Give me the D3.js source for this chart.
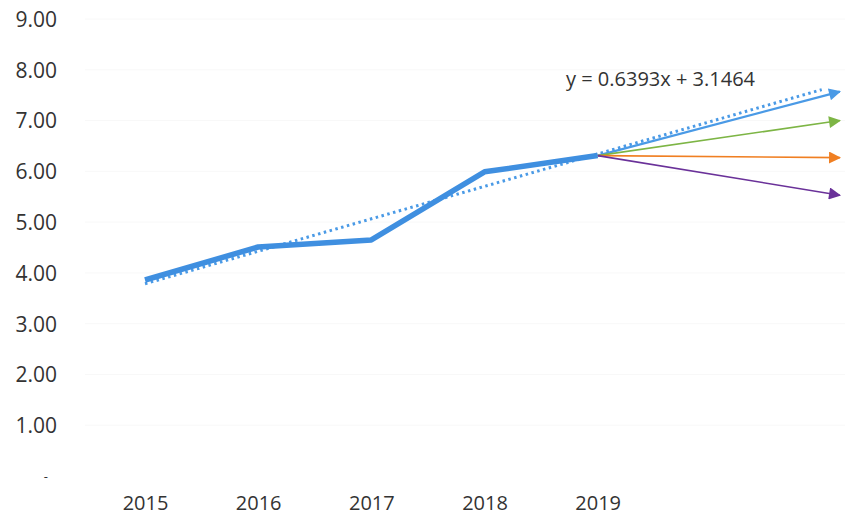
<!DOCTYPE html>
<html>
<head>
<meta charset="utf-8">
<script src="https://cdn.jsdelivr.net/npm/d3@7"></script>
<style>
  html, body { margin: 0; padding: 0; background: #fff; }
  svg text { font-family: "Open Sans", "Noto Sans", sans-serif; fill: #333; }
</style>
</head>
<body>
<svg id="chart" width="861" height="518"></svg>
<script>
// ---- data ----
const years = ["2015", "2016", "2017", "2018", "2019"];
const values = [3.86, 4.51, 4.65, 5.99, 6.31];
const yTicks = [0, 1, 2, 3, 4, 5, 6, 7, 8, 9];
const trendSlope = 0.6393;
const trendIntercept = 3.1464;
const trendLabel = "y = 0.6393x + 3.1464";
const scenarioNames = ["trend", "high", "flat", "low"];
const scenarioEnd = [7.57, 7.0, 6.27, 5.53];
const scenarioColors = ["#4a9ae6", "#7db545", "#f07f22", "#6a3199"];
const arrowEndX = 7.14;   // in trend-x units (2015 = 1)
const trendEndX = 6.98;

// ---- layout ----
const svg = d3.select("#chart");
const x = d3.scaleLinear().domain([1, 7]).range([145, 824]);
const y = d3.scaleLinear().domain([0, 9]).range([476, 19]);

// very faint gridlines
svg.append("g").selectAll("line").data(yTicks.slice(1)).join("line")
  .attr("x1", 85).attr("x2", 845)
  .attr("y1", d => y(d)).attr("y2", d => y(d))
  .attr("stroke", "#f8f8f8").attr("stroke-width", 1);

// y axis
const yAxis = d3.axisLeft(y).tickValues(yTicks)
  .tickFormat(d => d === 0 ? "-" : d3.format(".2f")(d)).tickSize(0).tickPadding(0);
const gy = svg.append("g").attr("transform", "translate(57,0)").call(yAxis);
gy.select(".domain").remove();
gy.selectAll("text").style("font-size", "21px").attr("fill", "#333").attr("dy", "0.35em");
gy.selectAll(".tick").filter(d => d === 0).select("text")
  .attr("x", -9).style("font-size", "13px").attr("fill", "#888");

// x axis
const xAxis = d3.axisBottom(x).tickValues(years.map((d, i) => i + 1))
  .tickFormat((d, i) => years[i]).tickSize(0).tickPadding(0);
const gx = svg.append("g").attr("transform", "translate(0,510)").call(xAxis);
gx.select(".domain").remove();
gx.selectAll("text").style("font-size", "20px").attr("fill", "#333").attr("dy", "0");

// markers
const defs = svg.append("defs");
scenarioColors.forEach((c, i) => {
  defs.append("marker").attr("id", "arr" + i)
    .attr("viewBox", "0 0 10 10").attr("refX", 9).attr("refY", 5)
    .attr("markerWidth", 15).attr("markerHeight", 12).attr("orient", "auto")
    .attr("markerUnits", "userSpaceOnUse")
    .append("path").attr("d", "M0,0 L10,5 L0,10 Z").attr("fill", c);
});

// trendline (dotted)
const tx = [1, trendEndX];
svg.append("line")
  .attr("x1", x(tx[0])).attr("y1", y(trendSlope * tx[0] + trendIntercept))
  .attr("x2", x(tx[1])).attr("y2", y(trendSlope * tx[1] + trendIntercept))
  .attr("stroke", "#4a9ae6").attr("stroke-width", 3)
  .attr("stroke-dasharray", "2.5,3.5");

// scenario arrows
const startX = years.length, startY = values[values.length - 1];
svg.append("g").selectAll("line").data(scenarioEnd).join("line")
  .attr("x1", x(startX)).attr("y1", y(startY))
  .attr("x2", x(arrowEndX)).attr("y2", d => y(d))
  .attr("stroke", (d, i) => scenarioColors[i])
  .attr("stroke-width", (d, i) => i === 0 ? 2.2 : 1.6)
  .attr("marker-end", (d, i) => `url(#arr${i})`);

// main line
const line = d3.line().x((d, i) => x(i + 1)).y(d => y(d));
svg.append("path").datum(values)
  .attr("d", line).attr("fill", "none")
  .attr("stroke", "#3f8fe0").attr("stroke-width", 5.5)
  .attr("stroke-linejoin", "round");

// trend label
svg.append("text").attr("x", 566).attr("y", 86)
  .style("font-size", "20px").attr("fill", "#222").text(trendLabel);
</script>
</body>
</html>
